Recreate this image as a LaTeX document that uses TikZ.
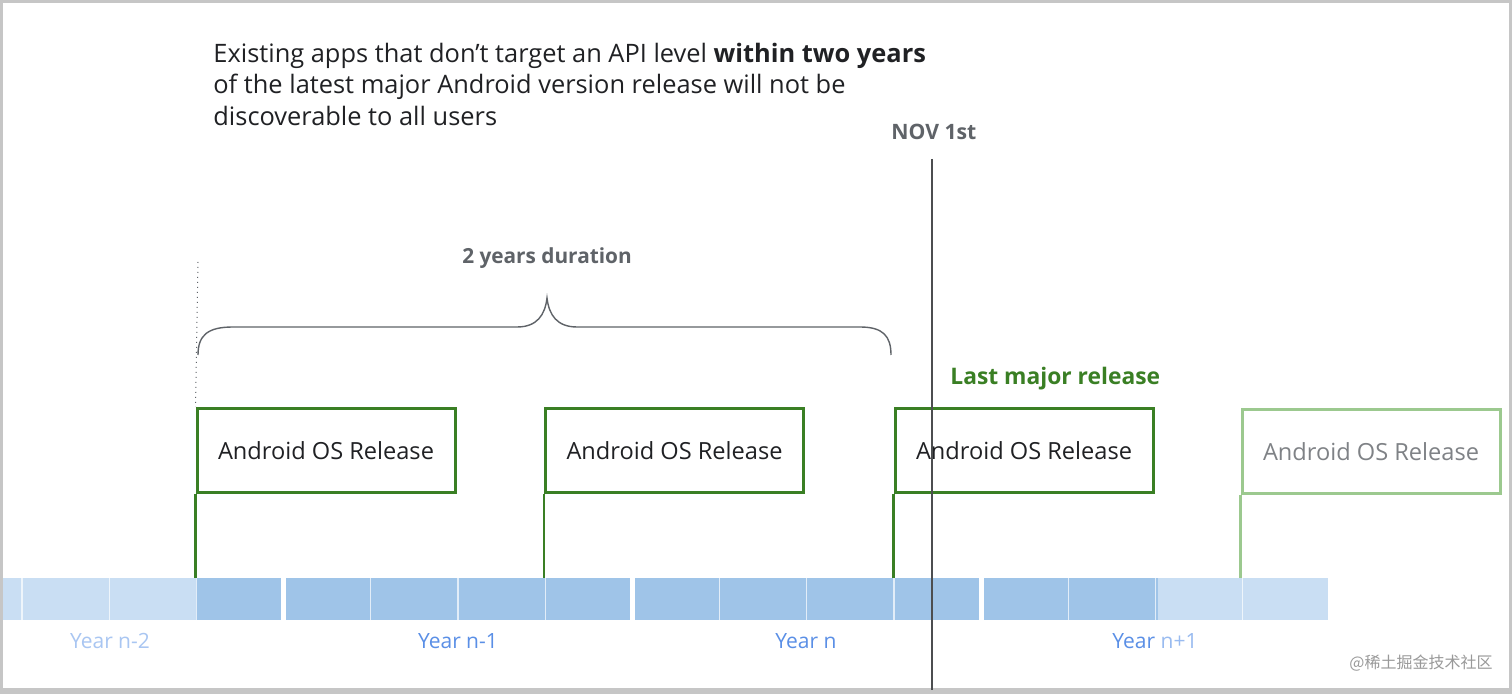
\documentclass[tikz,border=0pt]{standalone}
\usepackage{fontspec}
\setmainfont{Open Sans}
\newfontfamily\cjkfont{Noto Sans CJK SC}
\usepackage{xcolor}
\usetikzlibrary{positioning}
\definecolor{relgreen}{HTML}{3A7F24}
\definecolor{relgreenlight}{HTML}{9CC98F}
\definecolor{textdark}{HTML}{202124}
\definecolor{textgrey}{HTML}{5F6368}
\definecolor{bardark}{HTML}{9FC4E8}
\definecolor{barlight}{HTML}{C9DEF3}
\definecolor{yearblue}{HTML}{5A8FE6}
\definecolor{yearpale}{HTML}{A9C6F2}
\definecolor{framegrey}{HTML}{C6C6C6}

\begin{document}
\begin{tikzpicture}[x=0.5pt, y=-0.5pt,
  relbox/.style={draw=relgreen, line width=1.5pt, minimum width=129pt,
                 minimum height=42pt, inner sep=0pt, text=textdark,
                 font=\fontsize{11.8}{14}\selectfont},
  pole/.style={draw=relgreen, line width=1.4pt},
  yearlbl/.style={text=yearblue, font=\fontsize{10.5}{12}\selectfont},
  grey lbl/.style={text=textgrey, font=\fontsize{10.4}{12}\selectfont\bfseries}
]
  % Frame
  \fill[framegrey] (0,0) rectangle (1512,694);
  \fill[white] (3,3) rectangle (1509,688);
  \useasboundingbox (0,0) rectangle (1512,694);

  % Timeline bar
  \fill[barlight] (3,578) rectangle (196,620);
  \fill[bardark] (196,578) rectangle (1158,620);
  \fill[barlight] (1158,578) rectangle (1328,620);
  \foreach \k in {0,...,14} {
    \draw[white, opacity=0.7, line width=0.6pt] (22+87.2*\k,578) -- (22+87.2*\k,620);
  }
  \foreach \k in {3,7,11} {
    \fill[white] (22+87.2*\k-2.5,578) rectangle (22+87.2*\k+2.5,620);
  }

  % Title
  \node[anchor=north west, inner sep=0pt, align=left, text=textdark,
        font=\fontsize{12.7}{15.6}\selectfont] (title) at (213,43)
    {Existing apps that don't target an API level \textbf{within two years}\\
     of the latest major Android version release will not be\\
     discoverable to all users};

  % Nodes
  \node[relbox] (rel1) at (326,450.5) {Android OS Release};
  \node[relbox] (rel2) at (674.5,450.5) {Android OS Release};
  \node[relbox] (rel3) at (1024,450.5) {Android OS Release};
  \node[relbox, draw=relgreenlight, text=textgrey!80] (rel4) at (1371,452) {Android OS Release};

  \node[text=relgreen, font=\fontsize{11.4}{13}\selectfont\bfseries, anchor=west, inner sep=0pt]
    (last) at (950,379) {Last major release};
  \node[grey lbl] (dur) at (547,258) {2 years duration};
  \node[grey lbl, anchor=west, inner sep=0pt, font=\fontsize{10.6}{12}\selectfont\bfseries]
    (nov) at (891,132) {NOV 1st};

  \node[yearlbl, text=yearpale] (yr2) at (110,641) {Year n-2};
  \node[yearlbl] (yr1) at (458,641) {Year n-1};
  \node[yearlbl] (yr0) at (806,641) {Year n};
  \node[yearlbl] (yrp) at (1155,641) {Year \textcolor{yearpale!80!yearblue}{n+1}};

  \node[text=black!40, font=\cjkfont\fontsize{8}{10}\selectfont, anchor=east, inner sep=0pt]
    (mark) at (1493,663) {@稀土掘金技术社区};

  % Coordinates
  \coordinate (p1) at (rel1.south west |- 0,578);
  \coordinate (p2) at (rel2.south west |- 0,578);
  \coordinate (p3) at (rel3.south west |- 0,578);
  \coordinate (p4) at (rel4.south west |- 0,578);
  \coordinate (novtop) at (932,159);
  \coordinate (novbot) at (932,690);
  \coordinate (dottop) at (198,262);
  \coordinate (braceL) at (198,355);
  \coordinate (braceR) at (891,355);

  % Paths
  \draw[pole] (rel1.south west) -- (p1);
  \draw[pole] (rel2.south west) -- (p2);
  \draw[pole] (rel3.south west) -- (p3);
  \draw[pole, draw=relgreenlight] (rel4.south west) -- (p4);
  \draw[dotted, textgrey, line width=0.5pt] (dottop) -- (rel1.north west);
  \draw[textgrey, line width=0.7pt]
    (braceL) .. controls (198,335) and (208,327) .. (233,327) -- (517,327)
    .. controls (537,327) and (545,315) .. (547,298)
    .. controls (549,315) and (557,327) .. (577,327) -- (860,327)
    .. controls (883,327) and (891,336) .. (braceR);
  \draw[textdark!80, line width=0.8pt] (novtop) -- (novbot);
\end{tikzpicture}
\end{document}
